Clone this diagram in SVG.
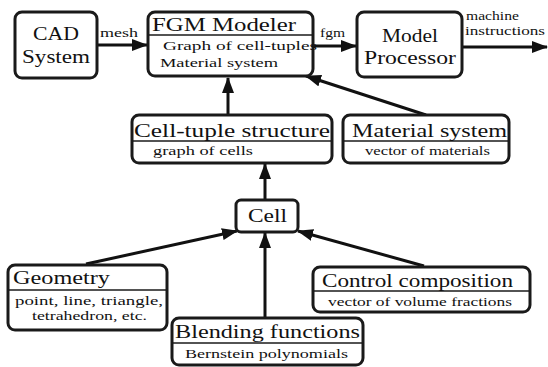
<svg xmlns="http://www.w3.org/2000/svg" width="548" height="367" viewBox="0 0 548 367">
<defs>
<marker id="ah" markerUnits="userSpaceOnUse" markerWidth="16" markerHeight="12" viewBox="0 0 16 12" refX="15" refY="6" orient="auto">
<path d="M0,0 L16,6 L0,12 Z" fill="#111"/>
</marker>
</defs>
<style>
.box{fill:#fff;stroke:#1a1a1a;stroke-width:3}
.div{stroke:#1a1a1a;stroke-width:1.5}
.t{font-family:"Liberation Serif","DejaVu Serif",serif;fill:#111}
.title{font-size:19px}
.sub{font-size:13px}
.lbl{font-size:13px}
.conn{stroke:#111;stroke-width:3;fill:none;marker-end:url(#ah)}
</style>
<rect width="548" height="367" fill="#fff"/>
<g id="connectors">
<line class="conn" x1="98" y1="45" x2="147" y2="45"/>
<line class="conn" x1="314" y1="46" x2="356" y2="46"/>
<line class="conn" x1="463" y1="47" x2="547" y2="47"/>
<line class="conn" x1="228" y1="115" x2="228" y2="78"/>
<line class="conn" x1="426" y1="115" x2="306" y2="76"/>
<line class="conn" x1="265" y1="200" x2="265" y2="164"/>
<line class="conn" x1="86" y1="264" x2="237" y2="231"/>
<line class="conn" x1="265" y1="318" x2="265" y2="233"/>
<line class="conn" x1="424" y1="266" x2="298" y2="231"/>
</g>
<g class="t lbl" id="labels">
<text x="100" y="37" textLength="38" lengthAdjust="spacingAndGlyphs">mesh</text>
<text x="320" y="37" textLength="25" lengthAdjust="spacingAndGlyphs">fgm</text>
<text x="466" y="20" textLength="53" lengthAdjust="spacingAndGlyphs">machine</text>
<text x="465" y="35" textLength="80" lengthAdjust="spacingAndGlyphs">instructions</text>
</g>
<g id="cad">
<rect class="box" x="15" y="12" width="82" height="66" rx="7"/>
<text class="t title" x="56" y="40" text-anchor="middle" textLength="46" lengthAdjust="spacingAndGlyphs">CAD</text>
<text class="t title" x="56" y="63" text-anchor="middle" textLength="68" lengthAdjust="spacingAndGlyphs">System</text>
</g>
<g id="fgm">
<rect class="box" x="148" y="12" width="165" height="64" rx="7"/>
<line class="div" x1="148" y1="35" x2="313" y2="35"/>
<text class="t title" x="152" y="31" textLength="144" lengthAdjust="spacingAndGlyphs">FGM Modeler</text>
<text class="t sub" x="163" y="50" textLength="154" lengthAdjust="spacingAndGlyphs">Graph of cell-tuples</text>
<text class="t sub" x="160" y="67" textLength="118" lengthAdjust="spacingAndGlyphs">Material system</text>
</g>
<g id="processor">
<rect class="box" x="357" y="12" width="105" height="65" rx="7"/>
<text class="t title" x="410" y="42" text-anchor="middle" textLength="56" lengthAdjust="spacingAndGlyphs">Model</text>
<text class="t title" x="410" y="64" text-anchor="middle" textLength="92" lengthAdjust="spacingAndGlyphs">Processor</text>
</g>
<g id="celltuple">
<rect class="box" x="132" y="115" width="200" height="48" rx="7"/>
<line class="div" x1="132" y1="141" x2="332" y2="141"/>
<text class="t title" x="134" y="137" textLength="196" lengthAdjust="spacingAndGlyphs">Cell-tuple structure</text>
<text class="t sub" x="153" y="155" textLength="100" lengthAdjust="spacingAndGlyphs">graph of cells</text>
</g>
<g id="material">
<rect class="box" x="343" y="115" width="166" height="48" rx="7"/>
<line class="div" x1="343" y1="141" x2="509" y2="141"/>
<text class="t title" x="352" y="137" textLength="155" lengthAdjust="spacingAndGlyphs">Material system</text>
<text class="t sub" x="365" y="155" textLength="125" lengthAdjust="spacingAndGlyphs">vector of materials</text>
</g>
<g id="cell">
<rect class="box" x="236" y="200" width="62" height="32" rx="5"/>
<text class="t title" x="248" y="222" textLength="39" lengthAdjust="spacingAndGlyphs">Cell</text>
</g>
<g id="geometry">
<rect class="box" x="8" y="265" width="159" height="65" rx="7"/>
<line class="div" x1="8" y1="290" x2="167" y2="290"/>
<text class="t title" x="13" y="284" textLength="97" lengthAdjust="spacingAndGlyphs">Geometry</text>
<text class="t sub" x="15" y="305" textLength="148" lengthAdjust="spacingAndGlyphs">point, line, triangle,</text>
<text class="t sub" x="32" y="320" textLength="115" lengthAdjust="spacingAndGlyphs">tetrahedron, etc.</text>
</g>
<g id="blending">
<rect class="box" x="172" y="318" width="191" height="47" rx="7"/>
<line class="div" x1="172" y1="343" x2="363" y2="343"/>
<text class="t title" x="175" y="338" textLength="185" lengthAdjust="spacingAndGlyphs">Blending functions</text>
<text class="t sub" x="185" y="358" textLength="163" lengthAdjust="spacingAndGlyphs">Bernstein polynomials</text>
</g>
<g id="control">
<rect class="box" x="313" y="267" width="217" height="45" rx="7"/>
<line class="div" x1="313" y1="291" x2="530" y2="291"/>
<text class="t title" x="322" y="287" textLength="191" lengthAdjust="spacingAndGlyphs">Control composition</text>
<text class="t sub" x="328" y="306" textLength="184" lengthAdjust="spacingAndGlyphs">vector of volume fractions</text>
</g>
</svg>
